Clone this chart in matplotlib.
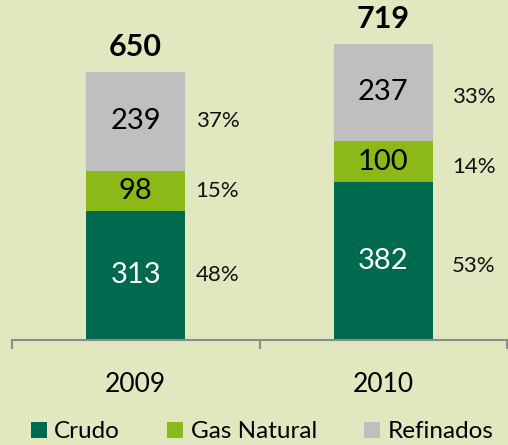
import matplotlib
matplotlib.use("Agg")
import matplotlib.pyplot as plt
from matplotlib.patches import Patch
import numpy as np

years = ["2009", "2010"]
crudo = [313, 382]
gas = [98, 100]
refinados = [239, 237]
totals = [650, 719]
pct_crudo = ["48%", "53%"]
pct_gas = ["15%", "14%"]
pct_ref = ["37%", "33%"]
series_names = ["Crudo", "Gas Natural", "Refinados"]

bg = "#E1E8C0"
c_crudo = "#006A4E"
c_gas = "#8AB918"
c_ref = "#BFBFBF"

plt.rcParams['font.family'] = ['Lato', 'DejaVu Sans']

W, H = 508, 445
fig = plt.figure(figsize=(W / 100, H / 100), dpi=100, facecolor=bg)
ax = fig.add_axes([12 / W, 105 / H, 495 / W, 340 / H])
ax.set_facecolor(bg)

x = np.arange(len(years))
bw = 0.4
b1 = np.array(crudo)
b2 = b1 + np.array(gas)
ax.bar(x, crudo, bw, color=c_crudo, zorder=2)
ax.bar(x, gas, bw, bottom=b1, color=c_gas, zorder=2)
ax.bar(x, refinados, bw, bottom=b2, color=c_ref, zorder=2)

ax.set_xlim(-0.5, 1.5)
ax.set_ylim(0, 824.6)

pct_off = [0.33, 0.365]
pct_dy = [0, -12]
for i in range(len(years)):
    segs = [(0, crudo[i], pct_crudo[i], "white"),
            (b1[i], gas[i], pct_gas[i], "black"),
            (b2[i], refinados[i], pct_ref[i], "black")]
    for base, val, pct, col in segs:
        yc = base + val / 2
        ax.text(x[i], yc, str(val), ha="center", va="center",
                fontsize=21, color=col, zorder=3)
        ax.text(x[i] + pct_off[i], yc + pct_dy[i], pct, ha="center", va="center",
                fontsize=16, color="#111111", zorder=3)
    ax.text(x[i], totals[i] + 26, str(totals[i]), ha="center", va="bottom",
            fontsize=22, fontweight="bold", color="black")

for s in ["top", "left", "right"]:
    ax.spines[s].set_visible(False)
ax.spines["bottom"].set_color("#8C8C8C")
ax.spines["bottom"].set_linewidth(1.5)
ax.set_yticks([])
ax.set_xticks([-0.5, 0.5, 1.5])
ax.set_xticklabels([])
ax.tick_params(axis="x", which="major", direction="out", length=6.5,
               width=1.5, color="#8C8C8C")
ax.set_xticks(x, minor=True)
ax.set_xticklabels(years, minor=True, fontsize=19)
ax.tick_params(axis="x", which="minor", length=0, pad=23)

handles = [Patch(facecolor=c, edgecolor="none") for c in (c_crudo, c_gas, c_ref)]
fig.legend(handles, series_names, loc="center", bbox_to_anchor=(262 / W, 13 / H),
           ncol=3, frameon=False, fontsize=17.5, handlelength=0.66,
           handleheight=0.66, handletextpad=0.3, columnspacing=1.95,
           borderpad=0, borderaxespad=0)

fig.savefig("out.png", dpi=100, facecolor=bg)
